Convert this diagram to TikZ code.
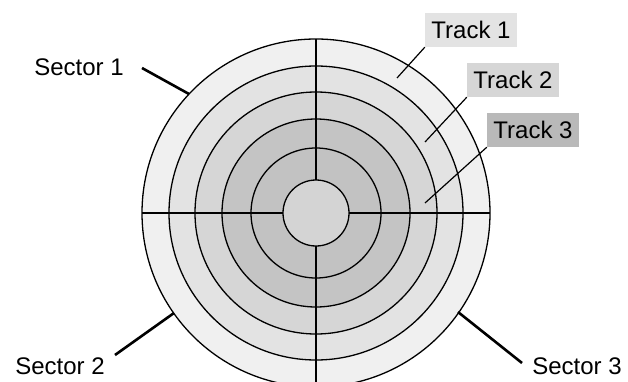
\documentclass[tikz,border=0pt]{standalone}
\usepackage{fontspec}
\setmainfont{Liberation Sans}
\begin{document}
\begin{tikzpicture}[x=1pt, y=-1pt, font=\fontsize{24}{27}\selectfont,
  ring/.style={draw=black, line width=1.3pt},
  pointer/.style={line width=2.6pt},
  trackline/.style={line width=1.2pt},
  trackbox/.style={inner sep=0pt, minimum width=92, minimum height=34}]
  \useasboundingbox (0,0) rectangle (628,382);
  \coordinate (c) at (316,213);
  \foreach \r/\g in {174/12, 147/22, 121/32, 94/46, 65/48, 33/34} {\fill[gray!\g] (c) circle (\r);}
  \foreach \r in {174, 147, 121, 94, 65, 33} {\draw[ring] (c) circle (\r);}
  \draw[line width=1.1pt] (c) ++(0,-174) -- ++(0,141) (c) ++(0,33) -- ++(0,150) (c) ++(-174,0) -- ++(141,0) (c) ++(33,0) -- ++(141,0);
  \node (sec1) at (79,67) {Sector 1};
  \node (sec2) at (60,366) {Sector 2};
  \node (sec3) at (577,366) {Sector 3};
  \coordinate (s1a) at (142,68); \coordinate (s1b) at (189,94);
  \coordinate (s2a) at (115,355); \coordinate (s2b) at (174,313);
  \coordinate (s3a) at (458,312); \coordinate (s3b) at (522,363);
  \draw[pointer] (s1a) -- (s1b);
  \draw[pointer] (s2a) -- (s2b);
  \draw[pointer] (s3a) -- (s3b);
  \node[trackbox, fill=gray!22] (trk1) at (471,30) {Track 1};
  \node[trackbox, fill=gray!32] (trk2) at (513,80) {Track 2};
  \node[trackbox, fill=gray!55] (trk3) at (533,130) {Track 3};
  \coordinate (t1) at (397,78); \coordinate (t2) at (425,142); \coordinate (t3) at (425,203);
  \draw[trackline] (trk1.south west) -- (t1);
  \draw[trackline] (trk2.south west) -- (t2);
  \draw[trackline] (trk3.south west) -- (t3);
\end{tikzpicture}
\end{document}
